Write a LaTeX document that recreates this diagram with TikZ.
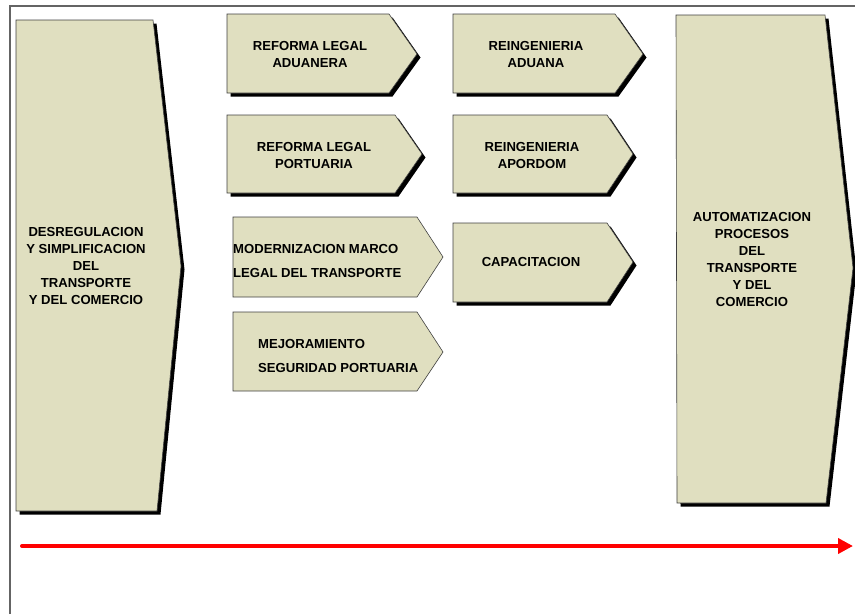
\documentclass[tikz,border=0pt]{standalone}
\usepackage{fontspec}
\setmainfont{Liberation Sans}
\usetikzlibrary{arrows.meta,shadows}
\definecolor{boxfill}{RGB}{224,223,192}
\definecolor{framegray}{RGB}{100,100,100}

\begin{document}
\begin{tikzpicture}[x=1pt,y=-1pt,
  box/.style={fill=boxfill,draw=black!75,line width=0.6pt},
  dropped/.style={drop shadow={shadow xshift=3.5pt,shadow yshift=-3.5pt,fill=black,opacity=1}},
  lbl/.style={font=\fontsize{13.1}{17}\selectfont\bfseries,align=center,inner sep=0pt},
  wide/.style={font=\fontsize{13.1}{24}\selectfont\bfseries,align=left,inner sep=0pt,anchor=west},
  timeline/.style={red,line width=4pt,line cap=round,-{Triangle[length=15pt,width=15pt]}}]

\useasboundingbox (0,0) rectangle (855,614);
\draw[framegray,line width=1.5pt] (10,614) -- (10,6) -- (855,6);

% big blocks, left and right
\draw[box,dropped] (16,20) -- (153,20) -- (181,266) -- (157,511) -- (16,511) -- cycle;
\node[lbl] (desreg) at (86,265.5) {DESREGULACION\\Y SIMPLIFICACION\\DEL\\TRANSPORTE\\Y DEL COMERCIO};

\draw[box,dropped] (676,15) -- (825,15) -- (853,268) -- (826,503) -- (677,503) -- cycle;
\node[lbl] (automat) at (752,259.5) {AUTOMATIZACION\\PROCESOS\\DEL\\TRANSPORTE\\Y DEL\\COMERCIO};

% first column
\draw[box,dropped] (227,14) -- (389,14) -- (417,54) -- (389,93) -- (227,93) -- cycle;
\node[lbl] (refaduana) at (310,54.5) {REFORMA LEGAL\\ADUANERA};

\draw[box,dropped] (227,115) -- (395,115) -- (422,154) -- (395,193) -- (227,193) -- cycle;
\node[lbl] (refportuaria) at (314,155) {REFORMA LEGAL\\PORTUARIA};

\draw[box] (233,217) -- (417,217) -- (443,257) -- (417,297) -- (233,297) -- cycle;
\node[wide] (modmarco) at (233,260.5) {MODERNIZACION MARCO\\LEGAL DEL TRANSPORTE};

\draw[box] (233,312) -- (417,312) -- (443,352) -- (417,391) -- (233,391) -- cycle;
\node[wide] (mejseg) at (258,356) {MEJORAMIENTO\\SEGURIDAD PORTUARIA};

% second column
\draw[box,dropped] (453,14) -- (615,14) -- (643,54) -- (615,93) -- (453,93) -- cycle;
\node[lbl] (reingaduana) at (536,54.5) {REINGENIERIA\\ADUANA};

\draw[box,dropped] (453,115) -- (607,115) -- (633,154) -- (607,193) -- (453,193) -- cycle;
\node[lbl] (reingapordom) at (532,155) {REINGENIERIA\\APORDOM};

\draw[box,dropped] (453,223) -- (607,223) -- (633,262) -- (607,302) -- (453,302) -- cycle;
\node[lbl] (capacit) at (531,262) {CAPACITACION};

% time axis
\coordinate (tstart) at (22,546);
\coordinate (tend) at (853,546);
\draw[timeline] (tstart) -- (tend);

\end{tikzpicture}
\end{document}
